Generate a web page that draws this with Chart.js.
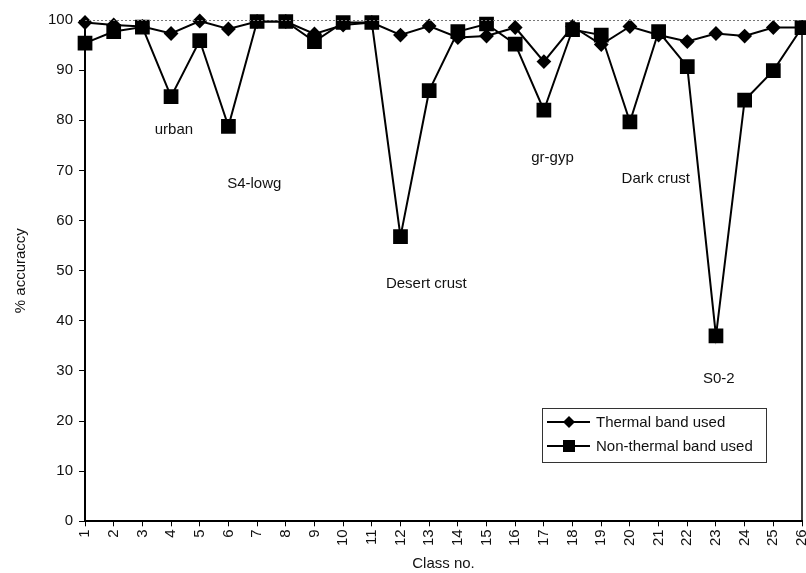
<!DOCTYPE html>
<html>
<head>
<meta charset="utf-8">
<script src="https://cdn.jsdelivr.net/npm/chart.js@4.4.0/dist/chart.umd.min.js"></script>
<style>
  html, body { margin: 0; padding: 0; background: #fff; overflow: hidden; }
  canvas { display: block; }
</style>
</head>
<body>
<canvas id="graph" width="806" height="573"></canvas>
<script>
// class numbers 1..26
const classNo = [1,2,3,4,5,6,7,8,9,10,11,12,13,14,15,16,17,18,19,20,21,22,23,24,25,26]

const thermal = [99.5,99,98.7,97.3,99.8,98.2,99.7,99.7,97.2,99,99.5,97,98.8,96.5,96.8,98.5,91.7,98.7,95.1,98.7,97,95.7,97.3,96.8,98.5,98.5]
const nonThermal = [95.4,97.7,98.6,84.7,95.9,78.8,99.7,99.7,95.7,99.5,99.5,56.8,85.9,97.7,99.2,95.2,82,98.1,97,79.7,97.7,90.7,37,84,89.9,98.5]

// labels written on the plot (class position, accuracy position)
const noteText = ['urban','S4-lowg','Desert crust','gr-gyp','Dark crust','S0-2']
const noteX = [4.1, 6.9, 12.9, 17.3, 20.9, 23.1]
const noteY = [78, 67.4, 47.4, 72.6, 68.4, 28.4]

const legendNames = ['Thermal band used','Non-thermal band used']

const FONT = '"Liberation Sans", Arial, sans-serif'

function toPoints(vals) {
  return vals.map(function(v, i){ return {x: classNo[i], y: v} })
}

// frame, notes and legend inside the plot
const extras = {
  id: 'extras',
  afterDatasetsDraw(chart) {
    const ctx = chart.ctx
    const a = chart.chartArea
    const xs = chart.scales.x
    const ys = chart.scales.y
    ctx.save()
    // dotted top edge, right edge
    ctx.strokeStyle = '#777'
    ctx.lineWidth = 1
    ctx.setLineDash([2,2])
    ctx.beginPath(); ctx.moveTo(a.left, a.top + 0.5); ctx.lineTo(a.right, a.top + 0.5); ctx.stroke()
    ctx.setLineDash([])
    ctx.strokeStyle = '#000'
    ctx.lineWidth = 1.5
    ctx.beginPath(); ctx.moveTo(a.right, a.top); ctx.lineTo(a.right, a.bottom); ctx.stroke()

    // notes
    ctx.fillStyle = '#111'
    ctx.font = '15px ' + FONT
    ctx.textAlign = 'center'
    ctx.textBaseline = 'middle'
    for (var i = 0; i < noteText.length; i++) {
      ctx.fillText(noteText[i], xs.getPixelForValue(noteX[i]), ys.getPixelForValue(noteY[i]))
    }

    // legend box
    const bx = 542, by = 408, bw = 224, bh = 54
    ctx.fillStyle = '#fff'
    ctx.fillRect(bx, by, bw, bh)
    ctx.strokeStyle = '#333'
    ctx.lineWidth = 1
    ctx.strokeRect(bx + 0.5, by + 0.5, bw, bh)
    ctx.textAlign = 'left'
    for (var j = 0; j < legendNames.length; j++) {
      const yy = by + 14 + j * 24
      ctx.strokeStyle = '#000'
      ctx.lineWidth = 2
      ctx.beginPath(); ctx.moveTo(bx + 5, yy); ctx.lineTo(bx + 48, yy); ctx.stroke()
      ctx.fillStyle = '#000'
      ctx.beginPath()
      if (j == 0) {
        ctx.moveTo(bx + 27, yy - 6); ctx.lineTo(bx + 33, yy); ctx.lineTo(bx + 27, yy + 6); ctx.lineTo(bx + 21, yy)
      } else {
        ctx.rect(bx + 21, yy - 6, 12, 12)
      }
      ctx.fill()
      ctx.fillStyle = '#111'
      ctx.fillText(legendNames[j], bx + 54, yy + 1)
    }
    ctx.restore()
  }
}

new Chart(document.getElementById('graph'), {
  type: 'line',
  data: {
    datasets: [{
      label: legendNames[0],
      data: toPoints(thermal),
      borderColor: '#000',
      backgroundColor: '#000',
      borderWidth: 2,
      pointStyle: 'rectRot',
      pointRadius: 6,
      tension: 0,
      clip: false
    },
    {
      label: legendNames[1],
      data: toPoints(nonThermal),
      borderColor: '#000',
      backgroundColor: '#000',
      borderWidth: 2,
      pointStyle: 'rect',
      pointRadius: 9,
      tension: 0,
      clip: false
    }]
  },
  options: {
    responsive: false,
    animation: false,
    layout: { autoPadding: false, padding: { top: 20, right: 0, left: 12, bottom: 0 } },
    plugins: {
      legend: { display: false },
      tooltip: { enabled: false }
    },
    scales: {
      x: {
        type: 'linear',
        min: 1,
        max: 26,
        afterFit: function(scale) { scale.paddingRight = 4; scale.paddingLeft = 0 },
        grid: { drawOnChartArea: false, color: '#000', tickLength: 5 },
        border: { color: '#000', width: 2 },
        ticks: {
          stepSize: 1,
          autoSkip: false,
          minRotation: 90,
          maxRotation: 90,
          color: '#111',
          font: { family: FONT, size: 15 }
        },
        title: {
          display: true,
          text: 'Class no.',
          color: '#111',
          font: { family: FONT, size: 15 },
          padding: { top: 6, bottom: 0 }
        }
      },
      y: {
        min: 0,
        max: 100,
        afterFit: function(scale) { scale.paddingTop = 0 },
        grid: { drawOnChartArea: false, color: '#000', tickLength: 6 },
        border: { color: '#000', width: 2 },
        ticks: {
          stepSize: 10,
          color: '#111',
          padding: 6,
          font: { family: FONT, size: 15 }
        },
        title: {
          display: true,
          text: '% accuraccy',
          color: '#111',
          font: { family: FONT, size: 15 },
          padding: { top: 0, bottom: 12 }
        }
      }
    }
  },
  plugins: [extras]
});
</script>
</body>
</html>
